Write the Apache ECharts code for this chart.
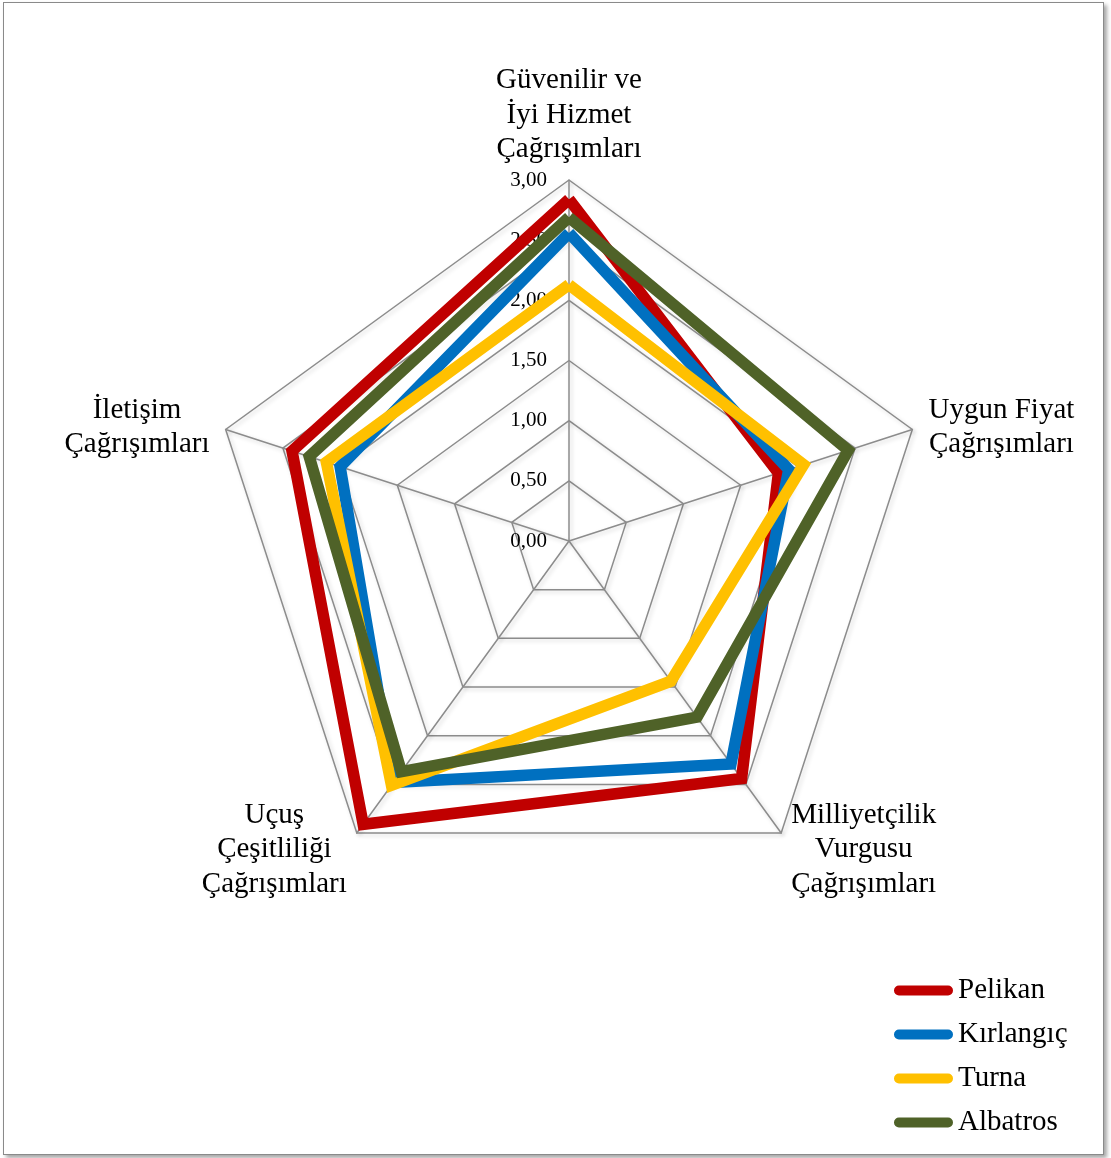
<!DOCTYPE html>
<html>
<head>
<meta charset="utf-8">
<script src="https://cdn.jsdelivr.net/npm/echarts@6/dist/echarts.min.js"></script>
<style>
  html, body { margin: 0; padding: 0; background: #fff; }
  #frame {
    position: absolute; left: 3px; top: 2px; width: 1099px; height: 1151px;
    border: 1px solid #8a8a8a; box-shadow: 3px 3px 4px rgba(0, 0, 0, 0.35);
  }
  #chart { position: absolute; left: 0; top: 0; width: 1111px; height: 1158px; }
</style>
</head>
<body>
<div id="frame"></div>
<div id="chart"></div>
<script>
// eksenler, Excel sırası (üstten saat yönünde)
const categories = [
  'Güvenilir ve\nİyi Hizmet\nÇağrışımları',
  'Uygun Fiyat\nÇağrışımları',
  'Milliyetçilik\nVurgusu\nÇağrışımları',
  'Uçuş\nÇeşitliliği\nÇağrışımları',
  'İletişim\nÇağrışımları'
]
const seriesNames = ['Pelikan', 'Kırlangıç', 'Turna', 'Albatros']
const pelikan = [2.84, 1.83, 2.44, 2.91, 2.42]
const kirlangic = [2.56, 1.92, 2.29, 2.48, 2.0]
const turna = [2.13, 2.05, 1.44, 2.51, 2.12]
const albatros = [2.69, 2.44, 1.81, 2.37, 2.27]
const tickLabels = ['0,00', '0,50', '1,00', '1,50', '2,00', '2,50', '3,00']
const colors = ['#C00000', '#0070C0', '#FFC000', '#4F6228']

// echarts saat yönünün tersine dizer
const order = [0, 4, 3, 2, 1]
const reorder = (arr) => order.map((i) => arr[i])

const font = '"Times New Roman", "Liberation Serif", serif'

const centerLines = (name) =>
  name.split('\n').map((s) => '{c|' + s + '}').join('\n')

const indicators = reorder(categories).map((name, i) => {
  const ind = { name, min: 0, max: 3 }
  if (i === 0) {
    ind.nameGap = 13
    ind.axisLabel = {
      show: true,
      fontFamily: font,
      fontSize: 21,
      color: '#000',
      margin: 22,
      showMinLabel: true,
      formatter: (v) => tickLabels[Math.round(v / 0.5)]
    }
  }
  return ind
})

const allValues = [pelikan, kirlangic, turna, albatros]

const chart = echarts.init(document.getElementById('chart'))
chart.setOption({
  backgroundColor: 'transparent',
  animation: false,
  legend: {
    orient: 'vertical',
    left: 894,
    top: 976,
    padding: 0,
    itemWidth: 59,
    itemHeight: 11,
    itemGap: 15,
    icon: 'path://M5,0 L55,0 A5,5 0 0 1 55,10 L5,10 A5,5 0 0 1 5,0 Z',
    textStyle: { fontFamily: font, fontSize: 29, color: '#000' },
    data: seriesNames
  },
  radar: {
    center: [569, 541],
    radius: 361,
    startAngle: 90,
    shape: 'polygon',
    splitNumber: 6,
    indicator: indicators,
    nameGap: 17,
    axisName: {
      color: '#000',
      fontFamily: font,
      fontSize: 29,
      lineHeight: 34.5,
      padding: [6, 0, 0, 0],
      formatter: centerLines,
      rich: {
        c: { align: 'center', fontFamily: font, fontSize: 29, lineHeight: 34.5, color: '#000' }
      }
    },
    axisLine: {
      lineStyle: {
        color: '#8c8c8c', width: 1.5,
        shadowColor: 'rgba(0,0,0,0.18)', shadowBlur: 4, shadowOffsetX: 2, shadowOffsetY: 2
      }
    },
    splitLine: {
      lineStyle: {
        color: '#8c8c8c', width: 1.5,
        shadowColor: 'rgba(0,0,0,0.18)', shadowBlur: 4, shadowOffsetX: 2, shadowOffsetY: 2
      }
    },
    splitArea: { show: false },
    axisTick: { show: false },
    axisLabel: { show: false }
  },
  series: [
    {
      type: 'radar',
      symbol: 'none',
      data: seriesNames.map((name, i) => ({
        name,
        value: reorder(allValues[i]),
        itemStyle: { color: colors[i] },
        lineStyle: { color: colors[i], width: 11.5, join: 'miter', miterLimit: 10 }
      }))
    }
  ]
})
</script>
</body>
</html>
